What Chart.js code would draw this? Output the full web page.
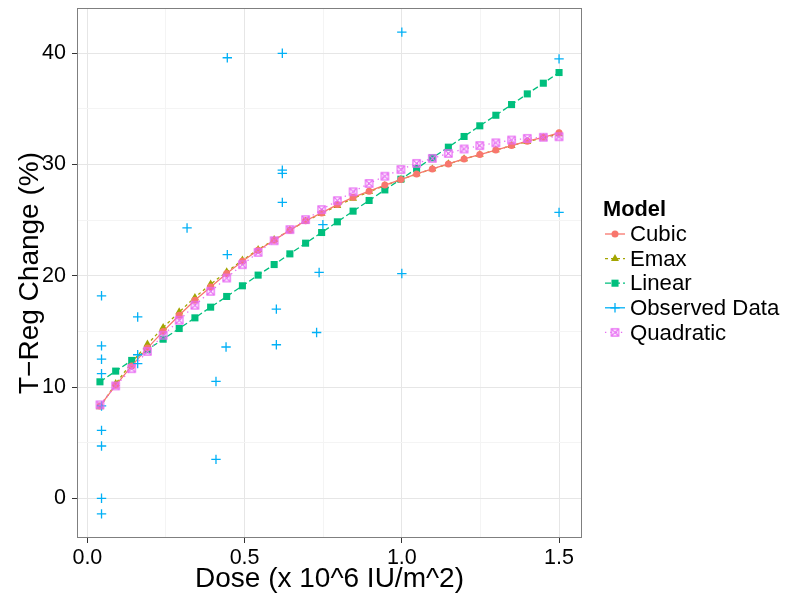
<!DOCTYPE html>
<html>
<head>
<meta charset="utf-8">
<script src="https://cdn.jsdelivr.net/npm/chart.js"></script>
<style>
  html, body { margin: 0; padding: 0; background: #ffffff; }
  #wrap { width: 787px; height: 599px; }
</style>
</head>
<body>
<div id="wrap"><canvas id="c" width="787" height="599"></canvas></div>
<script>
// ---- data ----
const doseGrid = [0.040, 0.090, 0.141, 0.191, 0.241, 0.292, 0.342, 0.392, 0.443, 0.493,
                  0.543, 0.594, 0.644, 0.694, 0.745, 0.795, 0.845, 0.896, 0.946, 0.997,
                  1.047, 1.097, 1.148, 1.198, 1.248, 1.299, 1.349, 1.399, 1.450, 1.500];
const cubicValues = [8.3, 10.15, 11.9, 13.5, 15.0, 16.45, 17.8, 19.0, 20.2, 21.3,
                     22.3, 23.2, 24.1, 24.95, 25.65, 26.4, 27.05, 27.6, 28.15, 28.65,
                     29.15, 29.6, 30.05, 30.5, 30.9, 31.3, 31.7, 32.1, 32.45, 32.85];
const emaxValues = [8.2, 10.3, 12.2, 13.85, 15.35, 16.75, 18.05, 19.25, 20.35, 21.4,
                    22.35, 23.25, 24.1, 24.9, 25.6, 26.3, 26.95, 27.55, 28.1, 28.65,
                    29.15, 29.6, 30.05, 30.5, 30.9, 31.3, 31.7, 32.05, 32.4, 32.75];
const linearValues = [10.47, 11.43, 12.39, 13.35, 14.30, 15.26, 16.22, 17.18, 18.14, 19.10,
                      20.06, 21.01, 21.97, 22.93, 23.89, 24.85, 25.81, 26.77, 27.72, 28.68,
                      29.64, 30.60, 31.56, 32.52, 33.48, 34.43, 35.39, 36.35, 37.31, 38.27];
const quadraticValues = [8.4, 10.1, 11.65, 13.2, 14.65, 16.0, 17.35, 18.6, 19.8, 21.0,
                         22.1, 23.15, 24.15, 25.05, 25.95, 26.75, 27.55, 28.3, 28.95, 29.55,
                         30.1, 30.55, 31.0, 31.4, 31.7, 31.95, 32.2, 32.35, 32.45, 32.5];
const observedDose = [0.045, 0.045, 0.045, 0.045, 0.045, 0.045, 0.045, 0.045, 0.045,
                      0.160, 0.160, 0.160, 0.317, 0.409, 0.409, 0.445, 0.445, 0.441,
                      0.601, 0.601, 0.620, 0.620, 0.620, 0.620, 0.737, 0.729, 0.749,
                      1.000, 1.000, 1.500, 1.500];
const observedValues = [18.2, 13.7, 12.5, 11.2, 8.3, 6.1, 4.7, 0.0, -1.4,
                        16.3, 12.9, 12.1, 24.3, 10.5, 3.5, 39.6, 21.9, 13.6,
                        17.0, 13.8, 40.0, 29.5, 29.2, 26.6, 20.3, 14.9, 24.6,
                        41.9, 20.2, 39.5, 25.7];
const modelNames = ["Cubic", "Emax", "Linear", "Observed Data", "Quadratic"];
const xMajorTicks = [0, 0.5, 1.0, 1.5];
const xMinorTicks = [0.25, 0.75, 1.25];
const yMajorTicks = [0, 10, 20, 30, 40];
const yMinorTicks = [5, 15, 25, 35];

// ---- styles ----
const COLORS = { Cubic: "#F8766D", Emax: "#A3A500", Linear: "#00BF7D", Obs: "#00B0F6", Quad: "#E76BF3" };
const FONT = "'Liberation Sans', Arial, Helvetica, sans-serif";

function makeQuadMarker() {
  const c = document.createElement("canvas");
  c.width = 11; c.height = 11;
  const g = c.getContext("2d");
  g.strokeStyle = COLORS.Quad;
  g.lineWidth = 1.3;
  const a = 1.9, b = 9.1;
  g.strokeRect(a, a, b - a, b - a);
  g.beginPath();
  g.moveTo(a, a); g.lineTo(b, b);
  g.moveTo(b, a); g.lineTo(a, b);
  g.stroke();
  return c;
}
const quadMarker = makeQuadMarker();

const pts = (xs, ys) => xs.map((x, i) => ({ x: x, y: ys[i] }));

const datasets = [
  { label: "Cubic", data: pts(doseGrid, cubicValues), borderColor: COLORS.Cubic, backgroundColor: COLORS.Cubic,
    borderWidth: 1.3, pointStyle: "circle", pointRadius: 3.5, pointBorderWidth: 0, order: 3 },
  { label: "Emax", data: pts(doseGrid, emaxValues), borderColor: COLORS.Emax, backgroundColor: COLORS.Emax,
    borderWidth: 1.3, borderDash: [3, 3], pointStyle: "triangle", pointRadius: 4.6, pointBorderWidth: 0, order: 5 },
  { label: "Linear", data: pts(doseGrid, linearValues), borderColor: COLORS.Linear, backgroundColor: COLORS.Linear,
    borderWidth: 1.3, borderDash: [6, 3], pointStyle: "rect", pointRadius: 5, pointBorderWidth: 0, order: 4 },
  { label: "Observed Data", data: pts(observedDose, observedValues), borderColor: COLORS.Obs, backgroundColor: COLORS.Obs,
    showLine: false, pointStyle: "cross", pointRadius: 4.7, pointBorderWidth: 1.3, order: 2 },
  { label: "Quadratic", data: pts(doseGrid, quadraticValues), borderColor: COLORS.Quad, backgroundColor: COLORS.Quad,
    borderWidth: 1.3, borderDash: [1.3, 4], pointStyle: quadMarker, pointRadius: 5, order: 1 }
];

const isMajor = (v, list) => list.some(t => Math.abs(t - v) < 1e-9);

const panelPlugin = {
  id: "panel",
  afterDatasetsDraw(chart) {
    const { ctx, chartArea: a } = chart;
    ctx.save();
    ctx.strokeStyle = "#7f7f7f";
    ctx.lineWidth = 1;
    ctx.strokeRect(Math.round(a.left) + 0.5, Math.round(a.top) + 0.5,
                   Math.round(a.right - a.left) - 1, Math.round(a.bottom - a.top) - 1);
    ctx.restore();
  },
  afterDraw(chart) {
    // legend
    const ctx = chart.ctx;
    ctx.save();
    ctx.fillStyle = "#000";
    ctx.textBaseline = "middle";
    ctx.textAlign = "left";
    ctx.font = "bold 21.8px " + FONT;
    ctx.fillText("Model", 603, 210);
    const rows = [234, 258.6, 283.2, 307.8, 332.4];
    const styles = [
      { c: COLORS.Cubic, dash: [], m: "circle" },
      { c: COLORS.Emax, dash: [3, 3], m: "triangle" },
      { c: COLORS.Linear, dash: [6, 3], m: "rect" },
      { c: COLORS.Obs, dash: [], m: "cross" },
      { c: COLORS.Quad, dash: [1.3, 4], m: "quad" }
    ];
    ctx.font = "22.2px " + FONT;
    rows.forEach((y, i) => {
      const s = styles[i];
      ctx.save();
      ctx.strokeStyle = s.c; ctx.fillStyle = s.c;
      ctx.lineWidth = 1.3;
      ctx.setLineDash(s.dash);
      ctx.beginPath(); ctx.moveTo(605, y); ctx.lineTo(625, y); ctx.stroke();
      ctx.setLineDash([]);
      const cx = 615;
      if (s.m === "circle") { ctx.beginPath(); ctx.arc(cx, y, 3.5, 0, Math.PI * 2); ctx.fill(); }
      else if (s.m === "triangle") {
        const r = 4.6;
        ctx.beginPath();
        ctx.moveTo(cx, y - r);
        ctx.lineTo(cx + r * Math.sin(2 * Math.PI / 3), y - r * Math.cos(2 * Math.PI / 3));
        ctx.lineTo(cx + r * Math.sin(4 * Math.PI / 3), y - r * Math.cos(4 * Math.PI / 3));
        ctx.closePath(); ctx.fill();
      }
      else if (s.m === "rect") { const h = 5 * Math.SQRT1_2; ctx.fillRect(cx - h, y - h, 2 * h, 2 * h); }
      else if (s.m === "cross") {
        ctx.beginPath(); ctx.moveTo(cx - 4.7, y); ctx.lineTo(cx + 4.7, y);
        ctx.moveTo(cx, y - 4.7); ctx.lineTo(cx, y + 4.7); ctx.stroke();
      }
      else if (s.m === "quad") { ctx.drawImage(quadMarker, cx - quadMarker.width / 2, y - quadMarker.height / 2); }
      ctx.restore();
      ctx.fillStyle = "#000";
      ctx.fillText(modelNames[i], 630, y + 1);
    });
    ctx.restore();
  }
};

function zeroPad(s) { s.paddingTop = 0; s.paddingBottom = 0; s.paddingLeft = 0; s.paddingRight = 0; }

new Chart(document.getElementById("c"), {
  type: "line",
  data: { datasets: datasets },
  plugins: [panelPlugin],
  options: {
    responsive: false,
    animation: false,
    events: [],
    layout: { padding: { top: 8, right: 205, left: 0, bottom: 0 } },
    plugins: { legend: { display: false }, tooltip: { enabled: false } },
    elements: { line: { tension: 0 } },
    scales: {
      x: {
        type: "linear",
        min: -0.033, max: 1.573,
        afterFit: s => { s.height = 61; zeroPad(s); },
        afterBuildTicks: s => {
          s.ticks = xMajorTicks.concat(xMinorTicks).sort((a, b) => a - b).map(v => ({ value: v }));
        },
        border: { display: false },
        grid: {
          color: ctx => isMajor(ctx.tick.value, xMajorTicks) ? "#e6e6e6" : "#f4f4f4",
          lineWidth: 1,
          tickColor: ctx => isMajor(ctx.tick.value, xMajorTicks) ? "#333333" : "rgba(0,0,0,0)",
          tickLength: 5,
          drawTicks: true
        },
        ticks: {
          autoSkip: false, maxRotation: 0, padding: 2,
          color: "#000",
          font: { family: FONT, size: 21.5 },
          callback: v => isMajor(v, xMajorTicks) ? v.toFixed(1) : ""
        },
        title: {
          display: true, text: "Dose (x 10^6 IU/m^2)", color: "#000",
          font: { family: FONT, size: 28 }, padding: { top: 0, bottom: 3.2 }
        }
      },
      y: {
        type: "linear",
        min: -3.57, max: 44.07,
        afterFit: s => { s.width = 77; zeroPad(s); },
        afterBuildTicks: s => {
          s.ticks = yMajorTicks.concat(yMinorTicks).sort((a, b) => a - b).map(v => ({ value: v }));
        },
        border: { display: false },
        grid: {
          color: ctx => isMajor(ctx.tick.value, yMajorTicks) ? "#e6e6e6" : "#f4f4f4",
          lineWidth: 1,
          tickColor: ctx => isMajor(ctx.tick.value, yMajorTicks) ? "#333333" : "rgba(0,0,0,0)",
          tickLength: 5,
          drawTicks: true
        },
        ticks: {
          autoSkip: false, padding: 6,
          color: "#000",
          font: { family: FONT, size: 21.5 },
          callback: v => isMajor(v, yMajorTicks) ? String(v) : ""
        },
        title: {
          display: true, text: "T\u2212Reg Change (%)", color: "#000",
          font: { family: FONT, size: 28 }, padding: { top: 13, bottom: 0 }
        }
      }
    }
  }
});
</script>
</body>
</html>
